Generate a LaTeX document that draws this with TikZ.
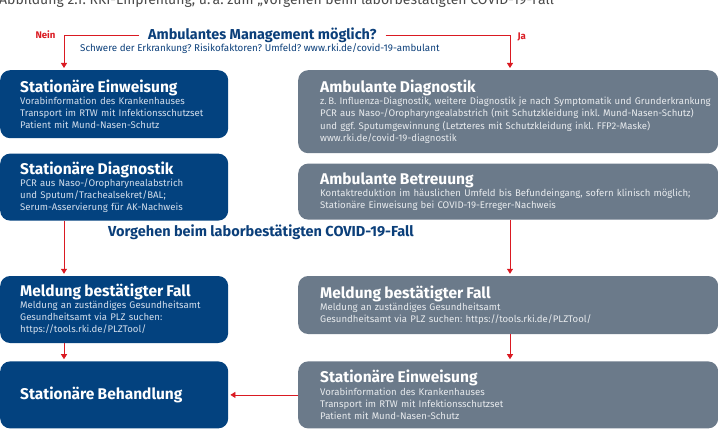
\documentclass[tikz,border=0pt]{standalone}
\usepackage{fontspec}
\setmainfont{Fira Sans}
\usetikzlibrary{positioning,calc,arrows.meta}

\definecolor{rkiblue}{HTML}{03427F}
\definecolor{rkigrey}{HTML}{6B7A8A}
\definecolor{rkired}{HTML}{DA1A22}
\definecolor{rkititle}{HTML}{0B3F7A}
\definecolor{bluetext}{HTML}{D3DEEC}
\definecolor{greytext}{HTML}{E8EBEE}
\definecolor{captgrey}{HTML}{4A4A4A}

\frenchspacing
\newcommand{\boxhead}[1]{{\fontsize{15.5}{16}\selectfont\bfseries\color{white}#1}\\[0pt]}

\tikzset{
    boxL/.style={fill=rkiblue,rounded corners=10pt,minimum width=228pt,text width=188pt,
        inner xsep=20pt,align=left,text=bluetext,font=\fontsize{9.6}{12}\selectfont},
    boxR/.style={fill=rkigrey,rounded corners=10pt,minimum width=420pt,text width=376pt,
        inner xsep=22pt,align=left,text=greytext,font=\fontsize{9.6}{12.2}\selectfont},
    flow/.style={draw=rkired,line width=0.8pt,-{Triangle[length=5pt,width=6pt]}},
}

\begin{document}
\begin{tikzpicture}[x=1pt,y=-1pt]
    \useasboundingbox (0,0) rectangle (718,436);

    \coordinate (colL) at (64,0);
    \coordinate (colR) at (510,0);

    \node[anchor=base west,inner sep=0,text=captgrey,font=\fontsize{14}{16}\selectfont] (caption) at (-1,5)
        {Abbildung 2.1: RKI-Empfehlung, u.\,a. zum „Vorgehen beim laborbestätigten COVID-19-Fall};

    \node[anchor=west,inner xsep=9pt,text=rkititle,font=\fontsize{14.4}{17}\selectfont\bfseries] (title) at (139,35)
        {Ambulantes Management möglich?};
    \node[anchor=base west,inner sep=0,text=rkititle,font=\fontsize{9.8}{11}\selectfont] (sub) at (80,52)
        {Schwere der Erkrankung? Risikofaktoren? Umfeld? www.rki.de/covid-19-ambulant};

    \node[boxL,anchor=north west,minimum height=68pt] (einwL) at (0,70)
        {\boxhead{Stationäre Einweisung}Vorabinformation des Krankenhauses\\Transport im RTW mit Infektionsschutzset\\Patient mit Mund-Nasen-Schutz};
    \node[boxL,below=15pt of einwL,minimum height=67pt] (diagL)
        {\boxhead{Stationäre Diagnostik}PCR aus Naso-/Oropharynealabstrich\\und Sputum/Trachealsekret/BAL;\\Serum-Asservierung für AK-Nachweis};
    \node[boxL,below=55pt of diagL,minimum height=67pt] (meldL)
        {\boxhead{Meldung bestätigter Fall}Meldung an zuständiges Gesundheitsamt\\Gesundheitsamt via PLZ suchen:\\https:/\kern-1pt/tools.rki.de/PLZTool/};
    \node[boxL,below=18pt of meldL,minimum height=67pt] (behL)
        {{\fontsize{15.5}{16}\selectfont\bfseries\color{white}Stationäre Behandlung}};

    \node[boxR,anchor=north west,minimum height=83pt] (diagR) at (298,70)
        {\boxhead{Ambulante Diagnostik}\mbox{z.\,B. Influenza-Diagnostik, weitere Diagnostik je nach Symptomatik und Grunderkrankung}\\\mbox{PCR aus Naso-/Oropharyngealabstrich (mit Schutzkleidung inkl. Mund-Nasen-Schutz)}\\und ggf. Sputumgewinnung (Letzteres mit Schutzkleidung inkl. FFP2-Maske)\\www.rki.de/covid-19-diagnostik};
    \node[boxR,below=10pt of diagR,minimum height=56pt] (betrR)
        {\boxhead{Ambulante Betreuung}\mbox{Kontaktreduktion im häuslichen Umfeld bis Befundeingang, sofern klinisch möglich;}\\Stationäre Einweisung bei COVID-19-Erreger-Nachweis};
    \node[boxR,below=56pt of betrR,minimum height=58pt] (meldR)
        {\boxhead{Meldung bestätigter Fall}Meldung an zuständiges Gesundheitsamt\\Gesundheitsamt via PLZ suchen: https:/\kern-1pt/tools.rki.de/PLZTool/};
    \node[boxR,below=27pt of meldR,minimum height=67pt] (einwR)
        {\boxhead{Stationäre Einweisung}Vorabinformation des Krankenhauses\\Transport im RTW mit Infektionsschutzset\\Patient mit Mund-Nasen-Schutz};

    \node[anchor=west,inner sep=0,text=rkititle,font=\fontsize{14.5}{17}\selectfont\bfseries] (vorgehen) at (108,232)
        {Vorgehen beim laborbestätigten COVID-19-Fall};

    \node[anchor=east,text=rkired,font=\fontsize{9.6}{11}\selectfont\bfseries] (nein) at ($(colL |- title.west)+(-5,0)$)
        {Nein};
    \node[anchor=west,text=rkired,font=\fontsize{9.6}{11}\selectfont\bfseries] (ja) at ($(colR |- title.east)+(4,2)$)
        {Ja};

    \draw[flow,shorten >=2pt] (title.west) -| (colL |- einwL.north);
    \draw[flow,shorten >=2pt] (title.east) -| (colR |- diagR.north);
    \draw[flow,shorten >=2pt] (colL |- diagL.south) -- (colL |- meldL.north);
    \draw[flow,shorten >=2pt] (colL |- meldL.south) -- (colL |- behL.north);
    \draw[flow,shorten >=2pt] (colR |- betrR.south) -- (colR |- meldR.north);
    \draw[flow,shorten >=2pt] (colR |- meldR.south) -- (colR |- einwR.north);
    \draw[flow,shorten >=2pt] (einwR.west) -- (behL.east);
\end{tikzpicture}
\end{document}
